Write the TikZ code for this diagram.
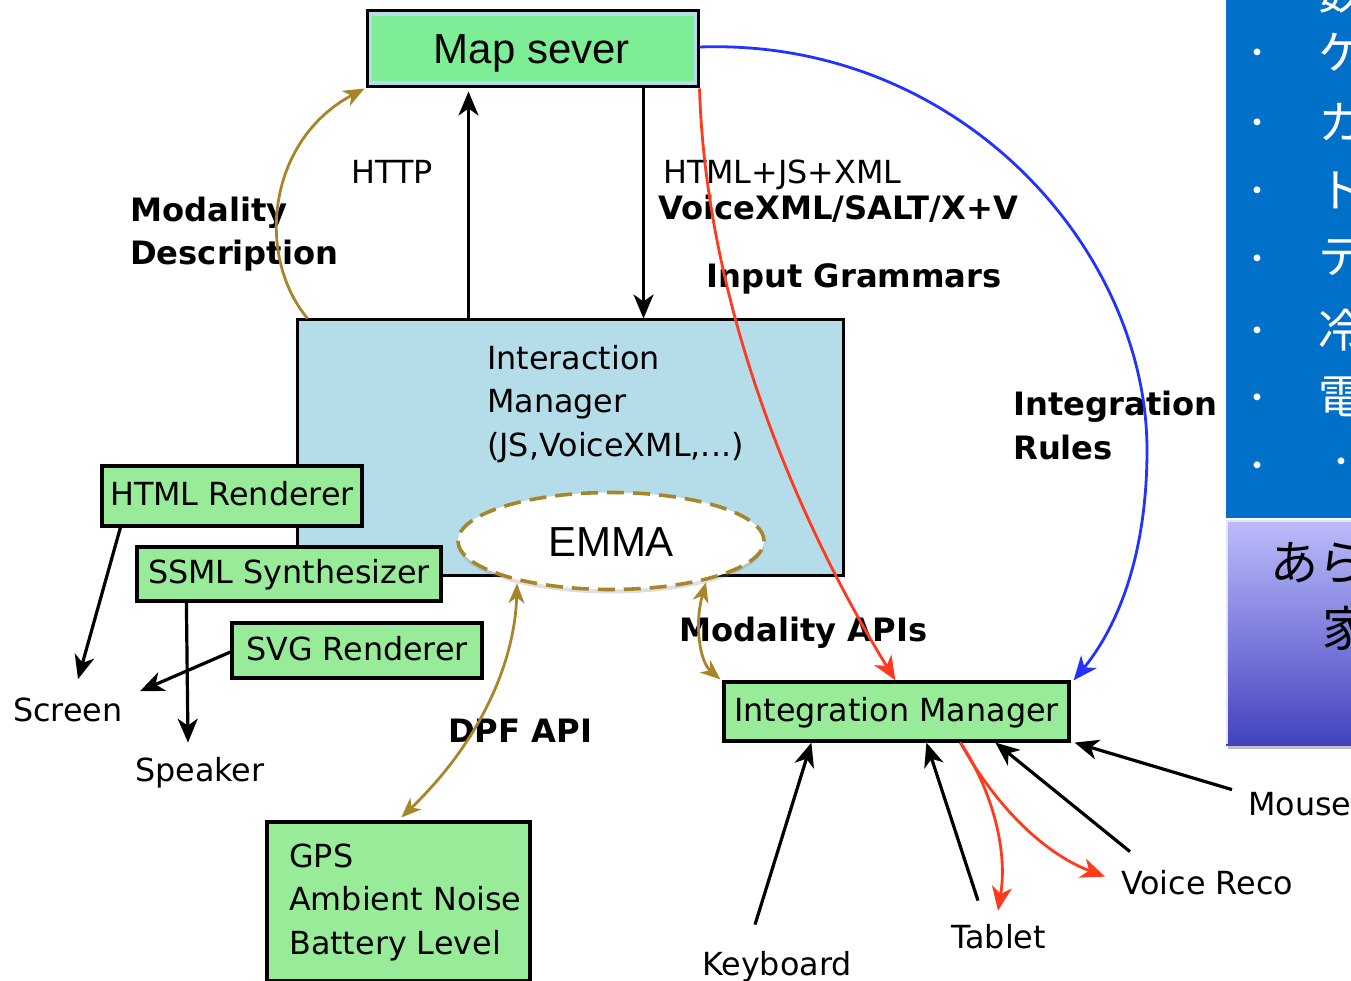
\documentclass[tikz,border=0pt]{standalone}
\usepackage{fontspec}
\setmainfont{DejaVu Sans}
\newfontfamily\arialf{Liberation Sans}
\newfontfamily\cjk{Noto Sans CJK JP}
\usetikzlibrary{arrows.meta,shapes.geometric,shadows,calc}
\definecolor{boxgreen}{HTML}{98EB98}
\definecolor{mapgreen}{HTML}{7DEE96}
\definecolor{imblue}{HTML}{B4DDE9}
\definecolor{gold}{HTML}{A8852B}
\definecolor{redline}{HTML}{FF3A1E}
\definecolor{blueline}{HTML}{2233FF}
\definecolor{panelblue}{HTML}{0070C8}
\definecolor{padtop}{HTML}{BCBCFA}
\definecolor{padbot}{HTML}{4242C0}
\begin{document}
\begin{tikzpicture}[x=1pt,y=-1pt,
  lbl/.style={font=\fontsize{31.8}{43.5}\selectfont, inner sep=0pt, anchor=base west},
  blbl/.style={lbl, font=\fontsize{32.2}{43.5}\selectfont\bfseries},
  gbox/.style={draw=black, line width=3.2pt, fill=boxgreen, inner sep=0pt,
    font=\fontsize{31.8}{43.5}\selectfont, text height=21pt, text depth=1.6pt},
  tip/.style={-{Stealth[length=24pt,width=20pt,inset=7pt]}},
  blk/.style={line width=3.2pt, black, tip},
  redarr/.style={line width=2.8pt, redline, tip},
  bluearr/.style={line width=2.8pt, blueline, tip},
  goldarr/.style={line width=2.8pt, gold, -{Stealth[length=21pt,width=17pt,inset=6pt]}},
  golddbl/.style={line width=2.8pt, gold, {Stealth[length=20pt,width=16pt,inset=6pt]}-{Stealth[length=20pt,width=16pt,inset=6pt]}},
  jp/.style={font=\cjk\fontsize{46}{50}\selectfont, text=white, inner sep=0pt, anchor=west},
  dot/.style={font=\cjk\fontsize{32}{36}\selectfont, text=white, inner sep=0pt}
]
\useasboundingbox (0,0) rectangle (1351,981);

% ---- side panel: blue list and gradient pad ----
\begin{scope}
  \clip (1226,0) rectangle (1351,981);
  \fill[panelblue] (1226,0) rectangle (1351,518);
  \node[jp] (j0) at (1318,-8) {数};
  \foreach \yy/\ch [count=\i] in {52/ケ,122/カ,190/ト,258/テ,330/冷,397/電}{
    \node[dot] (b\i) at (1257,\yy+5) {・};
    \node[jp] (c\i) at (1318,\yy) {\ch};
  }
  \node[dot] (b7) at (1257,470) {・};
  \node[dot] (c7) at (1341,466) {・};
  \fill[black!25] (1228,524) rectangle (1351,749);
  \shade[top color=padtop, bottom color=padbot] (1226,520) rectangle (1351,745);
  \draw[white!60!padtop, line width=1.5pt] (1227,744) -- (1227,521) -- (1351,521);
  \node[font=\cjk\fontsize{48}{52}\selectfont, inner sep=0pt, anchor=west] (p1) at (1270,563) {あら};
  \node[font=\cjk\fontsize{48}{52}\selectfont, inner sep=0pt, anchor=west] (p2) at (1322,628) {家};
\end{scope}

% ---- map server ----
\node[draw=black, line width=3pt, fill=imblue, minimum width=331pt, minimum height=76pt, inner sep=0pt] (ms) at (532.5,49) {};
\fill[mapgreen] ($(ms.north west)+(6,7)$) rectangle ($(ms.south east)+(-6,-7)$);
\node[font=\arialf\fontsize{42}{46}\selectfont, inner sep=0pt, anchor=base] (mstxt) at (532,63.5) {Map sever};

% ---- interaction manager ----
\node[draw=black, line width=3pt, fill=imblue, minimum width=546pt, minimum height=255pt, inner sep=0pt] (im) at (570,447.5) {};
\node[lbl, align=left] (imtxt) at (487,456) {Interaction\\Manager\\(JS,VoiceXML,...)};

\node[ellipse, draw=gold, fill=white, line width=3.6pt, dash pattern=on 17pt off 9pt,
  minimum width=306pt, minimum height=97pt, inner sep=0pt,
  drop shadow={opacity=0.25, shadow xshift=0pt, shadow yshift=-4pt},
  font=\arialf\fontsize{42}{46}\selectfont, text height=30pt, text depth=0pt] (emma) at (611,541) {EMMA};

% ---- renderers ----
\node[gbox, minimum width=260pt, minimum height=60pt] (html) at (232,496) {HTML Renderer};
\node[gbox, minimum width=304pt, minimum height=54pt] (ssml) at (289,574) {SSML Synthesizer};
\node[gbox, minimum width=250pt, minimum height=55pt] (svg) at (357,650.5) {SVG Renderer};
\node[lbl] (screen) at (13,721) {Screen};
\node[lbl] (speaker) at (135,781) {Speaker};

\draw[blk] ($(html.south west)+(20,0)$) -- ($(screen.north west)+(65,-18)$);
\draw[blk] ($(ssml.south west)+(51,0)$) -- ($(speaker.north west)+(53,-14)$);
\draw[blk] ($(svg.west)+(0,1.5)$) -- ($(screen.north west)+(127,-6)$);

% ---- context box ----
\node[gbox, minimum width=263pt, minimum height=159pt] (gps) at (398.5,901.5) {};
\node[lbl, align=left] (gpstxt) at (289,954) {GPS\\Ambient Noise\\Battery Level};

% ---- integration manager ----
\node[gbox, minimum width=345pt, minimum height=59pt] (intm) at (896.5,711.5) {Integration Manager};
\node[lbl] (kbd) at (702,975) {Keyboard};
\node[lbl] (tab) at (951,948) {Tablet};
\node[lbl] (voice) at (1121,894) {Voice Reco};
\node[lbl] (mouse) at (1248,815) {Mouse};

\draw[blk] ($(kbd.north west)+(53,-26)$) -- ($(intm.south west)+(89,0)$);
\draw[blk] ($(tab.north west)+(27,-23)$) -- ($(intm.south west)+(204,0)$);
\draw[blk] ($(voice.north west)+(9,-18)$) -- ($(intm.south west)+(273,0)$);
\draw[blk] ($(mouse.north west)+(-16,-2)$) -- ($(intm.south east)+(4,0)$);

\draw[redarr] ($(intm.south west)+(238,0)$) .. controls (992,790) and (1008,850) .. ($(tab.north west)+(47,-13)$);
\draw[redarr] ($(intm.south west)+(238,0)$) .. controls (992,800) and (1040,852) .. ($(voice.north west)+(-16,7)$);

% ---- server links ----
\node[lbl] (http) at (351,184) {HTTP};
\node[lbl] (htmljs) at (663,184) {HTML+JS+XML};
\node[blbl] (vxml) at (658,220) {VoiceXML/SALT/X+V};
\node[blbl] (grammar) at (706,288) {Input Grammars};
\node[blbl, align=left] (moddesc) at (130,265) {Modality\\Description};
\node[blbl, align=left] (rules) at (1013,459) {Integration\\Rules};
\node[blbl] (modapi) at (679,641) {Modality APIs};
\node[blbl] (dpf) at (448,742) {DPF API};

\draw[blk] ($(im.north west)+(173,0)$) -- ($(ms.south west)+(103,3)$);
\draw[blk] ($(ms.south west)+(278,0)$) -- ($(im.north west)+(348,0)$);

\draw[goldarr] ($(im.north west)+(12,0)$) .. controls (255,255) and (268,140) .. ($(ms.south west)+(-1,0)$);
\draw[redarr] ($(ms.south east)+(0,0)$) .. controls (706,300) and (792,512) .. ($(intm.north west)+(173,0)$);
\draw[bluearr] ($(ms.east)+(0,-2)$) .. controls (960,38) and (1147,250) .. (1147,450)
   .. controls (1147,560) and (1115,630) .. ($(intm.north east)+(3,0)$);

\draw[golddbl] ($(emma.south)+(-94,-8)$) .. controls (515,660) and (482,740) .. ($(gps.north west)+(136,-3)$);
\draw[golddbl] ($(emma.south)+(95,-9)$) .. controls (694,625) and (700,662) .. ($(intm.north west)+(-2,-1)$);
\end{tikzpicture}
\end{document}
